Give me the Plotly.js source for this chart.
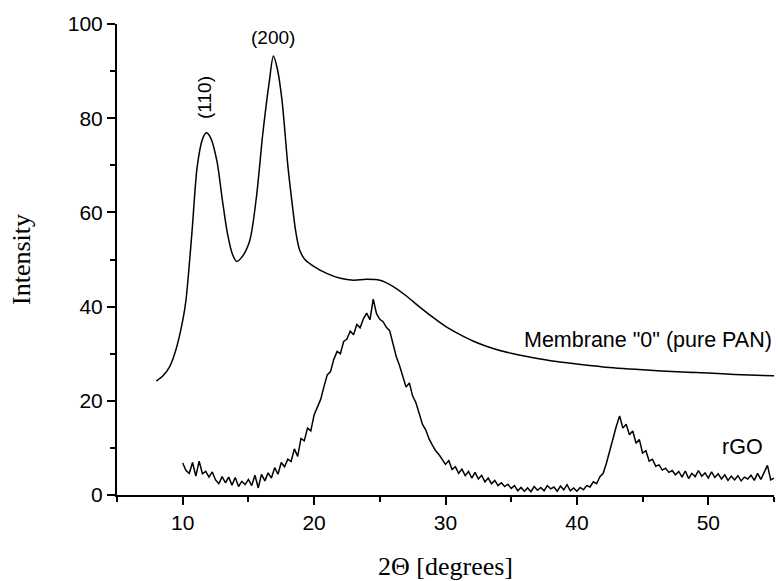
<!DOCTYPE html>
<html>
<head>
<meta charset="utf-8">
<script src="https://cdn.plot.ly/plotly-3.0.1.min.js"></script>
<style>html,body{margin:0;padding:0;background:#fff;}#chart{width:780px;height:581px;}</style>
</head>
<body>
<div id="chart"></div>
<script>
// Membrane "0" (pure PAN)
const panX = [8.0,8.5,9.0,9.5,10.0,10.25,10.7,11.1,11.5,11.8,12.1,12.6,13.0,13.4,13.8,14.1,14.5,15.1,15.6,16.1,16.6,16.9,17.2,17.55,18.0,18.3,18.6,18.9,19.3,20,21,22,23,24,25,26,27,28,29,30,31,32,33,34,35,36,38,40,42,45,48,50,52,55];
const panY = [24.2,25.3,27.2,31,37,41.4,55.6,69.6,75.5,76.9,76,71,63,55.6,51,49.6,50.5,54,63,76.8,88,93.2,90.5,84,70,62.6,56,52,50,48.5,47,46,45.6,45.8,45.6,44.3,42.3,40,37.8,35.8,34.2,32.8,31.7,30.8,30.1,29.5,28.5,27.8,27.2,26.6,26.1,25.9,25.6,25.3];

// rGO
const rgoX = [10.00,10.25,10.50,10.75,11.00,11.25,11.50,11.75,12.00,12.25,12.50,12.75,13.00,13.25,13.50,13.75,14.00,14.25,14.50,14.75,15.00,15.25,15.50,15.75,16.00,16.25,16.50,16.75,17.00,17.25,17.50,17.75,18.00,18.25,18.50,18.75,19.00,19.25,19.50,19.75,20.00,20.25,20.50,20.75,21.00,21.25,21.50,21.75,22.00,22.25,22.50,22.75,23.00,23.25,23.50,23.75,24.00,24.25,24.50,24.75,25.00,25.25,25.50,25.75,26.00,26.25,26.50,26.75,27.00,27.25,27.50,27.75,28.00,28.25,28.50,28.75,29.00,29.25,29.50,29.75,30.00,30.25,30.50,30.75,31.00,31.25,31.50,31.75,32.00,32.25,32.50,32.75,33.00,33.25,33.50,33.75,34.00,34.25,34.50,34.75,35.00,35.25,35.50,35.75,36.00,36.25,36.50,36.75,37.00,37.25,37.50,37.75,38.00,38.25,38.50,38.75,39.00,39.25,39.50,39.75,40.00,40.25,40.50,40.75,41.00,41.25,41.50,41.75,42.00,42.25,42.50,42.75,43.00,43.25,43.50,43.75,44.00,44.25,44.50,44.75,45.00,45.25,45.50,45.75,46.00,46.25,46.50,46.75,47.00,47.25,47.50,47.75,48.00,48.25,48.50,48.75,49.00,49.25,49.50,49.75,50.00,50.25,50.50,50.75,51.00,51.25,51.50,51.75,52.00,52.25,52.50,52.75,53.00,53.25,53.50,53.75,54.00,54.25,54.50,54.75,55.00];
const rgoY = [6.8,5.2,4.6,6.9,4.0,7.2,4.5,5.0,3.8,4.9,3.2,2.4,3.9,2.6,3.8,2.1,3.7,1.8,2.9,2.2,3.3,2.0,4.2,1.5,4.4,3.0,4.7,3.6,5.8,4.4,6.9,6.0,7.6,7.1,9.8,8.2,12.0,11.5,14.2,13.6,17.0,18.5,20.3,23.0,25.5,26.2,28.8,30.5,30.0,32.6,33.1,34.8,34.0,36.2,35.5,37.4,38.6,37.2,41.6,38.5,37.3,36.8,35.6,34.9,31.8,29.4,27.5,25.2,22.9,23.8,21.0,19.6,17.4,15.0,13.8,11.9,10.6,9.4,8.6,7.4,6.5,7.3,5.4,6.0,4.6,5.5,4.1,5.0,3.6,4.8,3.4,4.2,2.8,3.6,2.4,3.1,2.0,2.6,1.8,2.3,1.4,2.0,0.9,1.6,0.8,1.5,0.7,1.8,1.0,1.6,0.9,2.0,1.3,1.7,0.8,1.9,1.1,2.2,0.9,1.5,0.8,1.6,1.1,2.0,1.7,2.8,2.4,3.9,4.6,6.8,9.5,12.2,14.6,16.8,14.2,15.0,12.8,13.6,11.0,11.8,8.9,9.4,7.2,7.6,6.1,6.4,5.3,5.7,4.8,5.2,4.3,5.0,3.8,5.1,3.5,4.6,3.9,5.2,4.0,4.7,3.6,4.9,3.7,4.5,3.4,4.3,3.1,4.0,3.2,4.1,3.0,3.8,3.4,4.2,3.1,4.6,3.3,4.8,6.3,3.2,3.6];

const labels = ['(110)', '(200)', 'Membrane "0" (pure PAN)', 'rGO'];

const traces = [
  {x: panX, y: panY, type: 'scatter', mode: 'lines', line: {color: '#000', width: 1.5, shape: 'spline', smoothing: 0.8}, hoverinfo: 'skip', cliponaxis: false},
  {x: rgoX, y: rgoY, type: 'scatter', mode: 'lines', line: {color: '#000', width: 1.5}, hoverinfo: 'skip'}
];

const sans = 'Liberation Sans, Arial, sans-serif';
const tickFont = {family: sans, size: 21, color: '#000'};
const peakFont = {family: sans, size: 19, color: '#000'};
const noteFont = {family: sans, size: 21.5, color: '#000'};
const serif = {family: 'Liberation Serif, Times New Roman, serif', size: 26, color: '#000'};

const layout = {
  width: 780, height: 581,
  margin: {l: 117, r: 6, t: 24, b: 86},
  paper_bgcolor: '#fff', plot_bgcolor: '#fff',
  showlegend: false,
  xaxis: {
    range: [5, 55], tickvals: [10, 20, 30, 40, 50], ticktext: ['10','20','30','40','50'],
    showgrid: false, zeroline: false, showline: true, linecolor: '#000', linewidth: 2,
    ticks: 'outside', ticklen: 8, tickwidth: 2, tickcolor: '#000',
    minor: {tickvals: [5,15,25,35,45,55], ticks: 'outside', ticklen: 5, tickwidth: 2, tickcolor: '#000', showgrid: false},
    tickfont: tickFont,
    title: {text: '2\u0398 [degrees]', font: serif, standoff: 24}
  },
  yaxis: {
    range: [0, 100], tickvals: [0, 20, 40, 60, 80, 100],
    showgrid: false, zeroline: false, showline: true, linecolor: '#000', linewidth: 2,
    ticks: 'outside', ticklen: 8, tickwidth: 2, tickcolor: '#000',
    minor: {tickvals: [10,30,50,70,90], ticks: 'outside', ticklen: 5, tickwidth: 2, tickcolor: '#000', showgrid: false},
    tickfont: tickFont,
    title: {text: 'Intensity', font: serif, standoff: 30}
  },
  annotations: [
    {x: 11.7, y: 84.3, xref: 'x', yref: 'y', text: labels[0], showarrow: false, textangle: -90, font: peakFont},
    {x: 16.9, y: 97.2, xref: 'x', yref: 'y', text: labels[1], showarrow: false, font: peakFont},
    {x: 55, y: 32.9, xref: 'x', yref: 'y', text: labels[2], showarrow: false, xanchor: 'right', font: noteFont},
    {x: 52.6, y: 10.2, xref: 'x', yref: 'y', text: labels[3], showarrow: false, font: noteFont}
  ]
};

Plotly.newPlot('chart', traces, layout, {displayModeBar: false, staticPlot: true});
</script>
</body>
</html>
